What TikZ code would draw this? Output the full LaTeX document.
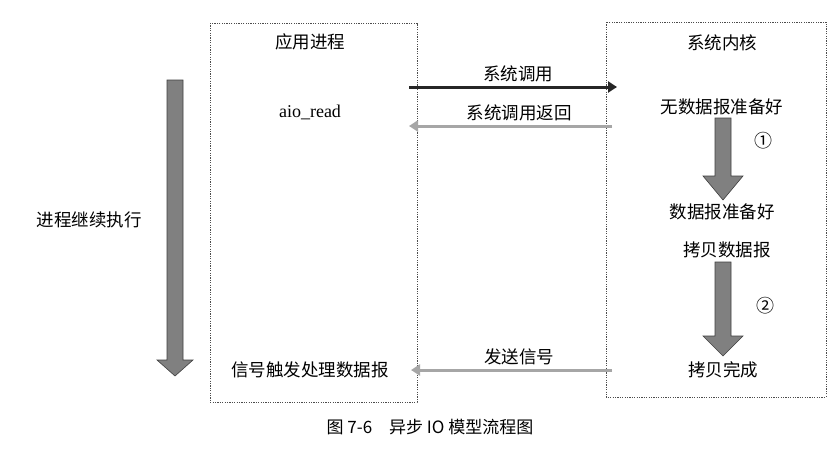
\documentclass[tikz,border=0pt]{standalone}
\usepackage{fontspec}
\setmainfont{Liberation Serif}
\newfontfamily\cjk{Noto Sans CJK SC}
\usetikzlibrary{arrows.meta}
\begin{document}
\begin{tikzpicture}[x=1pt,y=-1pt,
  lbl/.style={font=\cjk\fontsize{17.5}{19}\selectfont,inner sep=0pt},
  box/.style={draw=black!70,dashed,dash pattern=on 1.2pt off 1.2pt,line width=0.6pt},
  blk/.style={fill=black!50,draw=black!75,line width=0.6pt},
  harr/.style={line width=3pt,-{Triangle[length=9pt,width=11pt]}}]
\useasboundingbox (0,0) rectangle (838,453);
\fill[white] (0,0) rectangle (838,453);
\draw[box] (210,23) rectangle (417,402);
\draw[box] (606,22) rectangle (826,397);
% left big arrow
\draw[blk] (167,80) -- (183,80) -- (183,360) -- (193,360) -- (175,376) -- (157,360) -- (167,360) -- cycle;
\node[lbl] (cont) at (89,220) {进程继续执行};
\node[lbl] (app) at (310,42) {应用进程};
\node[inner sep=0pt,font=\fontsize{18}{20}\selectfont] (aio) at (310,112) {aio\_read};
\node[lbl] (kern) at (722,43) {系统内核};
\node[lbl] (nod) at (722,107) {无数据报准备好};
\node[lbl] (rdy) at (722,212) {数据报准备好};
\node[lbl] (cpy) at (727,250) {拷贝数据报};
\node[lbl] (done) at (723,370) {拷贝完成};
\node[lbl] (sig) at (310,370) {信号触发处理数据报};
\node[lbl] (l1) at (518,74) {系统调用};
\node[lbl] (l2) at (519,113) {系统调用返回};
\node[lbl] (l3) at (519,357) {发送信号};
\node[lbl,font=\cjk\fontsize{18}{19}\selectfont] (c1) at (763,141) {①};
\node[lbl,font=\cjk\fontsize{18}{19}\selectfont] (c2) at (765,306) {②};
\coordinate (a1s) at (409,87); \coordinate (a1e) at (617,87);
\coordinate (a2s) at (612,126); \coordinate (a2e) at (409,126);
\coordinate (a3s) at (612,370); \coordinate (a3e) at (411,370);
\draw[harr,draw=black!85,fill=black!85] (a1s) -- (a1e);
\draw[harr,draw=black!35,fill=black!35] (a2s) -- (a2e);
\draw[harr,draw=black!35,fill=black!35] (a3s) -- (a3e);
% kernel arrows
\draw[blk] (715,118) -- (731,118) -- (731,176) -- (743,176) -- (723,200) -- (703,176) -- (715,176) -- cycle;
\draw[blk] (715,262) -- (731,262) -- (731,336) -- (743,336) -- (723,356) -- (703,336) -- (715,336) -- cycle;
\node[lbl,font=\cjk\fontsize{17}{19}\selectfont] (cap) at (430,427) {图 7-6\quad 异步 IO 模型流程图};
\end{tikzpicture}
\end{document}
